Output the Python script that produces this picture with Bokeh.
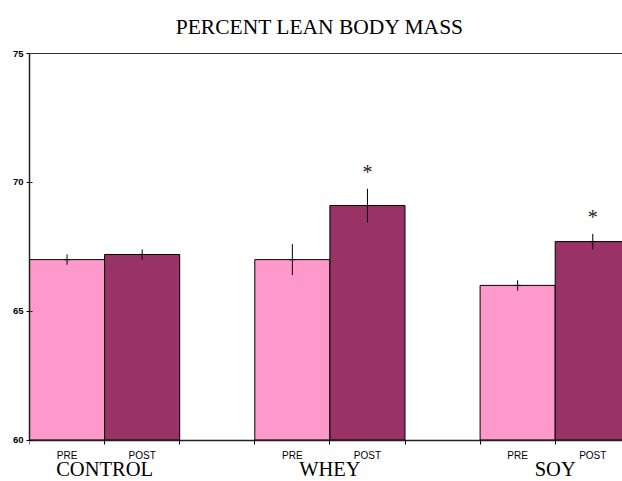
from bokeh.plotting import figure
from bokeh.models import (ColumnDataSource, Range1d, FixedTicker, Span)
from bokeh.core.properties import value
from bokeh.embed import file_html
from bokeh.resources import INLINE

# ---- data ----
title_text = "PERCENT LEAN BODY MASS"
groups = ["CONTROL", "WHEY", "SOY"]
phases = ["PRE", "POST"]
pre_means = [67.0, 67.0, 66.0]
post_means = [67.2, 69.1, 67.7]
pre_err = [0.2, 0.6, 0.2]
post_err = [0.2, 0.65, 0.3]
pre_sig = ["", "", ""]
post_sig = ["", "*", "*"]
y_ticks = [60, 65, 70, 75]

colors = {"PRE": "#FF99CC", "POST": "#993366"}
slot_per_group = 3  # two bars + one gap

# ---- layout constants (pixels) ----
W, H = 622, 481
LEFT = 29
AXIS_TOP_PX, AXIS_BOTTOM_PX = 53, 439.5
px_per_unit = (AXIS_BOTTOM_PX - AXIS_TOP_PX) / (y_ticks[-1] - y_ticks[0])
y_lo = y_ticks[0] - (H - AXIS_BOTTOM_PX) / px_per_unit
y_hi = y_ticks[-1] + AXIS_TOP_PX / px_per_unit
x_hi = (W - LEFT) / 75.1

xs, tops, errs, sigs, cols, labs = [], [], [], [], [], []
for gi, g in enumerate(groups):
    for k, ph in enumerate(phases):
        xs.append(gi * slot_per_group + k + 0.5)
        m = pre_means[gi] if ph == "PRE" else post_means[gi]
        e = pre_err[gi] if ph == "PRE" else post_err[gi]
        s = pre_sig[gi] if ph == "PRE" else post_sig[gi]
        tops.append(m)
        errs.append(e)
        sigs.append(s)
        cols.append(colors[ph])
        labs.append(ph)

src = ColumnDataSource(dict(
    x=xs, top=tops, lo=[t - e for t, e in zip(tops, errs)],
    hi=[t + e for t, e in zip(tops, errs)], sig=sigs, color=cols))

gcenters = [gi * slot_per_group + 1.0 for gi in range(len(groups))]
gsrc = ColumnDataSource(dict(x=gcenters, y=[y_ticks[0]] * len(groups), text=groups))
tsrc = ColumnDataSource(dict(x=[x_hi / 2], y=[y_ticks[-1]], text=[title_text]))

p = figure(width=W, height=H, output_backend="svg", toolbar_location=None,
           x_range=Range1d(0, x_hi), y_range=Range1d(y_lo, y_hi),
           min_border_left=LEFT, min_border_right=0, min_border_top=0, min_border_bottom=0)
p.outline_line_color = None
p.xgrid.visible = False
p.ygrid.visible = False
p.background_fill_color = "white"
p.border_fill_color = "white"

p.vbar(x="x", top="top", bottom=y_ticks[0], width=1.0, fill_color="color",
       line_color="black", line_width=1, source=src)
p.segment(x0="x", y0="lo", x1="x", y1="hi", line_color="black", line_width=1, source=src)
p.scatter(x="x", y="top", marker="dash", size=6, line_color="black", source=src)
p.text(x="x", y="hi", text="sig", text_align="center", text_baseline="alphabetic",
       y_offset=-17, text_font=value("Liberation Serif"), text_font_size="20px",
       text_color="#222222", source=src)

# top frame line
p.add_layout(Span(location=y_ticks[-1], dimension="width", line_color="#333333", line_width=1))

# y axis
ya = p.yaxis[0]
ya.ticker = FixedTicker(ticks=y_ticks, minor_ticks=[])
ya.bounds = (y_ticks[0], y_ticks[-1])
ya.major_tick_in = 3
ya.major_tick_out = 3
ya.major_tick_line_color = "black"
ya.axis_line_color = "#222222"
ya.axis_line_width = 1.5
ya.major_label_text_font = "Liberation Sans"
ya.major_label_text_font_style = "bold"
ya.major_label_text_font_size = "9.5px"
ya.major_label_text_color = "black"
ya.major_label_standoff = 3

# x axis at y=60: PRE/POST labels at bar centers, tick marks at bar edges
edges = [i for i in range(len(groups) * slot_per_group)]
xa = p.xaxis[0]
xa.fixed_location = y_ticks[0]
xa.ticker = FixedTicker(ticks=xs, minor_ticks=edges)
xa.major_label_overrides = {x: l for x, l in zip(xs, labs)}
xa.major_tick_line_color = None
xa.major_tick_in = 0
xa.major_tick_out = 0
xa.minor_tick_in = 0
xa.minor_tick_out = 4
xa.minor_tick_line_color = "black"
xa.axis_line_color = "#222222"
xa.axis_line_width = 1.5
xa.major_label_text_font = "Liberation Sans"
xa.major_label_text_font_size = "10px"
xa.major_label_text_color = "black"
xa.major_label_standoff = 6

# group labels
p.text(x="x", y="y", text="text", source=gsrc, text_align="center",
       text_baseline="alphabetic", y_offset=29,
       text_font=value("Liberation Serif"), text_font_size="20.5px", text_color="black")

# title
p.text(x="x", y="y", text="text", source=tsrc, text_align="center",
       text_baseline="alphabetic", y_offset=-27, x_offset=-6,
       text_font=value("Liberation Serif"), text_font_size="21.5px", text_color="black")

open("out.html", "w").write(file_html(p, INLINE))
